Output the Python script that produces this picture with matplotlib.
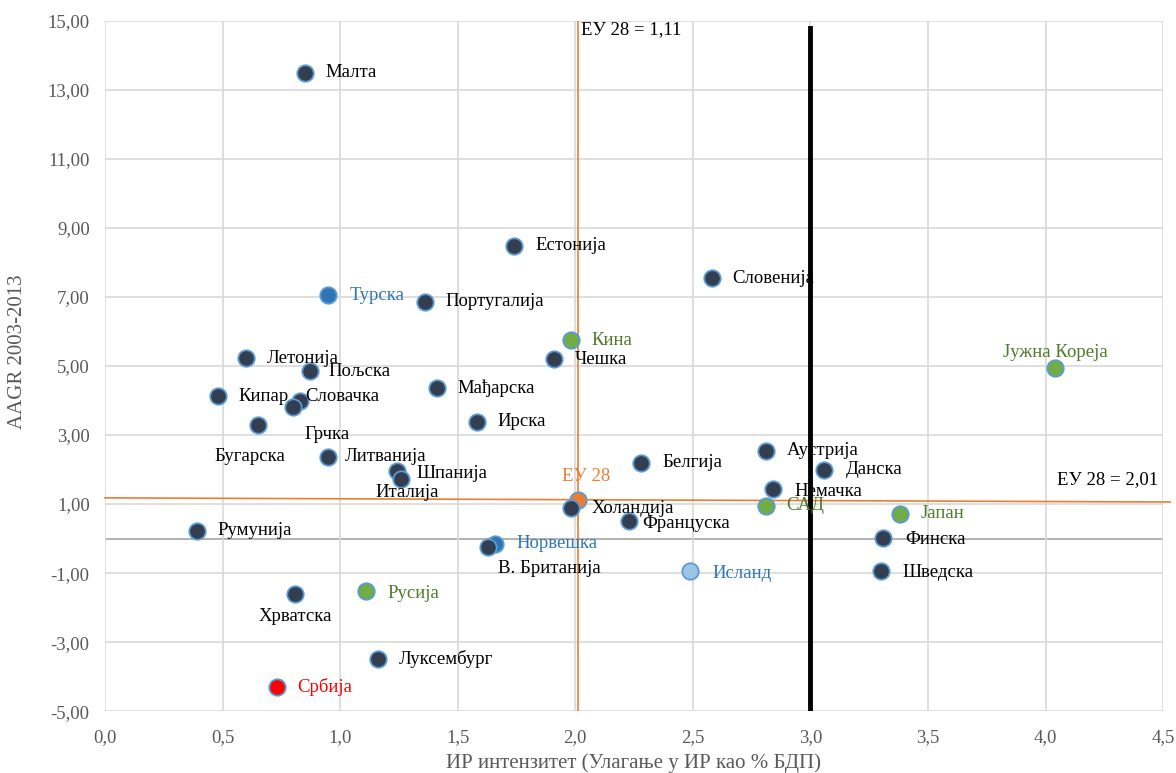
import matplotlib.pyplot as plt
from matplotlib.ticker import FuncFormatter, MultipleLocator

plt.rcParams['font.family'] = ['Liberation Serif', 'DejaVu Serif']

# R&D intensity (x) vs AAGR 2003-2013 (y)
names = ['Малта', 'Естонија', 'Словенија', 'Турска', 'Португалија', 'Кина', 'Чешка',
         'Летонија', 'Пољска', 'Јужна Кореја', 'Кипар', 'Мађарска', 'Словачка', 'Грчка',
         'Бугарска', 'Ирска', 'Литванија', 'Шпанија', 'Италија', 'Аустрија', 'Белгија',
         'Данска', 'Немачка', 'ЕУ 28', 'Холандија', 'САД', 'Јапан', 'Француска',
         'Румунија', 'Финска', 'Норвешка', 'В. Британија', 'Исланд', 'Шведска',
         'Хрватска', 'Русија', 'Луксембург', 'Србија']
rd = [0.85, 1.74, 2.58, 0.95, 1.36, 1.98, 1.91,
      0.60, 0.87, 4.04, 0.48, 1.41, 0.83, 0.80,
      0.65, 1.58, 0.95, 1.24, 1.26, 2.81, 2.28,
      3.06, 2.84, 2.01, 1.98, 2.81, 3.38, 2.23,
      0.39, 3.31, 1.66, 1.63, 2.49, 3.30,
      0.81, 1.11, 1.16, 0.73]
aagr = [13.49, 8.48, 7.55, 7.05, 6.86, 5.75, 5.20,
        5.23, 4.87, 4.95, 4.12, 4.35, 4.00, 3.80,
        3.28, 3.38, 2.37, 1.97, 1.72, 2.55, 2.20,
        2.00, 1.45, 1.11, 0.88, 0.95, 0.72, 0.52,
        0.23, 0.02, -0.15, -0.25, -0.95, -0.93,
        -1.60, -1.52, -3.50, -4.30]
group = ['eu', 'eu', 'eu', 'cand', 'eu', 'other', 'eu',
         'eu', 'eu', 'other', 'eu', 'eu', 'eu', 'eu',
         'eu', 'eu', 'eu', 'eu', 'eu', 'eu', 'eu',
         'eu', 'eu', 'avg', 'eu', 'other', 'other', 'eu',
         'eu', 'eu', 'cand', 'eu', 'efta', 'eu',
         'eu', 'other', 'eu', 'srb']

eu_x = 2.01          # vertical orange reference
eu_y = [1.18, 1.06]  # horizontal orange reference (ends)
target_x = 3.0       # black reference line

fill = {'eu': '#333F50', 'cand': '#2E75B6', 'other': '#70AD47', 'avg': '#ED7D31',
        'efta': '#9DC3E6', 'srb': '#FF0000'}
txtc = {'eu': 'black', 'cand': '#2E75B6', 'other': '#4E7A2A', 'avg': '#ED7D31',
        'efta': '#2E75B6', 'srb': '#FF0000'}

# label offsets in pixels: (dx, dy, ha)
offs = {'Јужна Кореја': (0, 15, 'center'), 'Словачка': (5, 4, 'left'),
        'Грчка': (34, -27, 'center'), 'Бугарска': (-8, -31, 'center'),
        'Литванија': (16, 0, 'left'), 'Шпанија': (20, -3, 'left'),
        'Италија': (-26, -13, 'left'), 'Немачка': (22, -3, 'left'),
        'ЕУ 28': (9, 24, 'center'), 'Француска': (13, -3, 'left'),
        'Финска': (22, -2, 'left'), 'В. Британија': (61, -21, 'center'),
        'Исланд': (22, -2, 'left'), 'Шведска': (22, -2, 'left'),
        'Хрватска': (0, -23, 'center'), 'Русија': (21, -2, 'left'),
        'Пољска': (19, -1, 'left')}

fig = plt.figure(figsize=(11.76, 7.73), dpi=100)
ax = fig.add_axes([0.0893, 0.080, 0.8997, 0.893])

ax.set_xlim(0, 4.5)
ax.set_ylim(-5, 15)
ax.xaxis.set_major_locator(MultipleLocator(0.5))
ax.set_yticks([-5, -3, -1, 1, 3, 5, 7, 9, 11, 13, 15])
ax.xaxis.set_major_formatter(FuncFormatter(lambda v, p: f'{v:.1f}'.replace('.', ',')))
ax.yaxis.set_major_formatter(FuncFormatter(lambda v, p: f'{v:.2f}'.replace('.', ',')))
ax.grid(True, color='#D9D9D9', lw=1.2, zorder=0)
ax.tick_params(length=0, labelsize=13.5, colors='#595959')
ax.tick_params(axis='x', pad=13)
ax.tick_params(axis='y', pad=11)
for s in ax.spines.values():
    s.set_visible(False)
ax.axhline(0, color='#A6A6A6', lw=1.2, zorder=1)

ax.axvline(eu_x, color='#ED7D31', lw=1.2, zorder=2)
ax.plot([0, 4.53], eu_y, color='#ED7D31', lw=1.2, zorder=2, clip_on=False)
ax.plot([target_x, target_x], [14.8, -5], color='black', lw=3.5, zorder=2)

for n, x, y, g in zip(names, rd, aagr, group):
    ax.scatter(x, y, s=140, color=fill[g], edgecolor='#5B9BD5', linewidth=1.3, zorder=5)
    dx, dy, ha = offs.get(n, (21, 0, 'left'))
    ax.annotate(n, (x, y), xytext=(dx, dy), textcoords='offset pixels',
                ha=ha, va='center', fontsize=13.5, color=txtc[g], zorder=6)

ax.text(eu_x + 0.015, 14.75, 'ЕУ 28 = 1,11', fontsize=13.5, va='center', ha='left')
ax.text(4.48, 1.7, 'ЕУ 28 = 2,01', fontsize=13.5, va='center', ha='right')

fig.text(633 / 1176, 1 - 763 / 773, 'ИР интензитет (Улагање у ИР као % БДП)',
         fontsize=15, color='#595959', ha='center', va='center')
fig.text(18 / 1176, 1 - 352 / 773, 'AAGR 2003-2013', rotation=90,
         fontsize=15, color='#595959', ha='center', va='center')

plt.savefig('out.png', dpi=100)
plt.close()
